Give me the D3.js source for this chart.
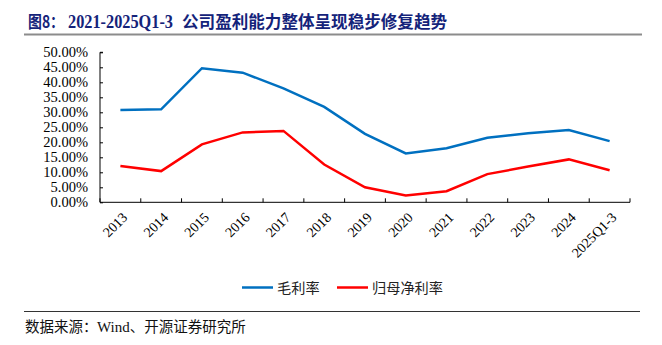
<!DOCTYPE html>
<html><head><meta charset="utf-8">
<script src="https://cdn.jsdelivr.net/npm/d3@7"></script>
<style>
body{margin:0;background:#fff;}
svg{display:block;}
</style>
</head><body>
<svg id="c" width="662" height="345"></svg>
<script>
const categories = ["2013","2014","2015","2016","2017","2018","2019","2020","2021","2022","2023","2024","2025Q1-3"];
const grossMargin = [30.8,31.0,44.7,43.2,38.0,31.8,22.8,16.3,18.0,21.5,23.0,24.1,20.4];
const netMargin = [12.1,10.4,19.3,23.3,23.8,12.6,5.0,2.3,3.7,9.4,11.9,14.3,10.7];
const yTicks = [0,5,10,15,20,25,30,35,40,45,50];
const seriesNames = ["毛利率","归母净利率"];
const titleParts = ["图8：","2021-2025Q1-3","公司盈利能力整体呈现稳步修复趋势"];
const sourceParts = ["数据来源：","Wind","、开源证券研究所"];

(function(){
const svg = d3.select("#c");
const serif = "'Liberation Serif','Times New Roman',serif";
const cjk = "'Noto Sans CJK SC','Noto Sans CJK JP',sans-serif";

// title
const tAttrs = (sel)=>sel.attr("y",27.5).attr("font-weight","bold").attr("font-size",16.5).attr("fill","#14237a");
tAttrs(svg.append("text")).attr("x",28).attr("font-family",cjk)
  .attr("textLength",36).attr("lengthAdjust","spacingAndGlyphs").text(titleParts[0]);
tAttrs(svg.append("text")).attr("x",68).attr("font-family",serif).attr("font-size",18)
  .attr("textLength",105).attr("lengthAdjust","spacingAndGlyphs").text(titleParts[1]);
tAttrs(svg.append("text")).attr("x",182).attr("font-family",cjk)
  .attr("textLength",265).attr("lengthAdjust","spacingAndGlyphs").text(titleParts[2]);
svg.append("line").attr("x1",24).attr("x2",642).attr("y1",34.5).attr("y2",34.5)
  .attr("stroke","#8c8c8c").attr("stroke-width",2);

const pl=100,pr=630,pt=52.3,pb=202.3;
const x = d3.scaleBand().domain(categories).range([pl,pr]);
const y = d3.scaleLinear().domain([0,50]).range([pb,pt]);

// y axis
const yAxis = svg.append("g").attr("transform",`translate(${pl},0)`)
  .call(d3.axisLeft(y).tickValues(yTicks).tickSize(-3).tickPadding(12).tickFormat(d=>d.toFixed(2)+"%"));
yAxis.select(".domain").attr("stroke","#000").attr("d",`M3,${pt}H0V${pb}`);
yAxis.selectAll(".tick line").attr("stroke","#000");
yAxis.selectAll("text").attr("font-family",serif).attr("font-size",14.5).attr("fill","#000");

// x axis
const xg = svg.append("g").attr("transform",`translate(0,${pb})`);
xg.append("line").attr("x1",pl).attr("x2",pr).attr("stroke","#000");
const bounds = categories.map(c=>x(c)).concat([pr]);
xg.selectAll("line.tk").data(bounds).enter().append("line").attr("class","tk")
  .attr("x1",d=>d).attr("x2",d=>d).attr("y1",0).attr("y2",-4).attr("stroke","#000");
xg.selectAll("text").data(categories).enter().append("text")
  .attr("transform",d=>`translate(${x(d)+x.bandwidth()/2+1},9) rotate(-45)`)
  .attr("text-anchor","end").attr("dy","0.7em")
  .attr("font-family",serif).attr("font-size",14).attr("fill","#000").text(d=>d);

const line = d3.line().x((d,i)=>x(categories[i])+x.bandwidth()/2).y(d=>y(d));
svg.append("path").datum(grossMargin).attr("d",line).attr("fill","none")
  .attr("stroke","#0070c0").attr("stroke-width",2.5);
svg.append("path").datum(netMargin).attr("d",line).attr("fill","none")
  .attr("stroke","#ff0000").attr("stroke-width",2.5);

// legend
const lg = [{x:242,c:"#0070c0",n:seriesNames[0]},{x:337,c:"#ff0000",n:seriesNames[1]}];
lg.forEach(l=>{
  svg.append("line").attr("x1",l.x).attr("x2",l.x+31).attr("y1",287.5).attr("y2",287.5)
    .attr("stroke",l.c).attr("stroke-width",2.5);
  svg.append("text").attr("x",l.x+35).attr("y",292.5).attr("font-family",cjk)
    .attr("font-size",14.2).attr("fill","#222").text(l.n);
});

svg.append("line").attr("x1",24).attr("x2",640).attr("y1",311.5).attr("y2",311.5)
  .attr("stroke","#333").attr("stroke-width",1.2);
const s = svg.append("text").attr("y",332).attr("font-size",14.5).attr("fill","#111");
s.append("tspan").attr("x",25).attr("font-family",cjk).text(sourceParts[0]);
s.append("tspan").attr("x",97).attr("font-family",serif).attr("font-size",15).text(sourceParts[1]);
s.append("tspan").attr("font-family",cjk).text(sourceParts[2]);
})();
</script>
</body></html>
